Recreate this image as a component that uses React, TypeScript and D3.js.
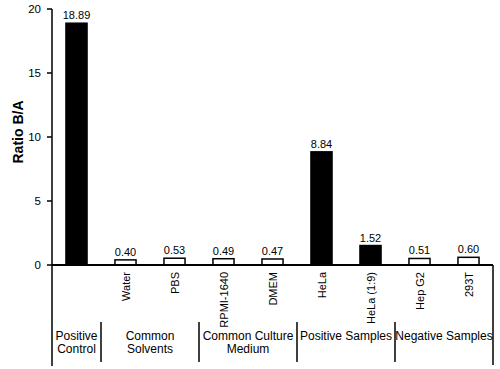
import React from "react";
import * as d3 from "d3";

const categories = ["Positive Control", "Water", "PBS", "RPMI-1640", "DMEM", "HeLa", "HeLa (1:9)", "Hep G2", "293T"];
const values = [18.89, 0.40, 0.53, 0.49, 0.47, 8.84, 1.52, 0.51, 0.60];
const filled = [true, false, false, false, false, true, true, false, false];
const showCatLabel = [false, true, true, true, true, true, true, true, true];
const groupLabels = [["Positive", "Control"], ["Common", "Solvents"], ["Common Culture", "Medium"], ["Positive Samples"], ["Negative Samples"]];
const groupSizes = [1, 2, 2, 2, 2];
const yTicks = [0, 5, 10, 15, 20];

export default function App() {
  const W = 500, H = 369;
  const x0 = 52, x1 = 493, yTop = 9, yBase = 265;
  const x = d3.scaleBand<string>().domain(categories).range([x0, x1]).paddingInner(0.57).paddingOuter(0.285);
  const y = d3.scaleLinear().domain([0, 20]).range([yBase, yTop]);
  const step = x.step();
  const font = "Liberation Sans, Arial, sans-serif";

  // group boundaries
  const bounds: number[] = [];
  let acc = 0;
  groupSizes.forEach((s) => { bounds.push(acc); acc += s; });
  const edge = (i: number) => x0 + i * ((x1 - x0) / categories.length);

  return (
    <svg width={W} height={H} style={{ position: "absolute", left: 0, top: 0, background: "#fff" }} fontFamily={font}>
      <rect width={W} height={H} fill="#fff" />
      {/* bars */}
      {categories.map((c, i) => (
        <rect key={c} x={x(c)} y={y(values[i])} width={x.bandwidth()} height={yBase - y(values[i])}
          fill={filled[i] ? "#000" : "#fff"} stroke="#000" strokeWidth={1.5} />
      ))}
      {/* value labels */}
      {categories.map((c, i) => (
        <text key={c + "v"} x={(x(c) as number) + x.bandwidth() / 2} y={y(values[i]) - 4}
          textAnchor="middle" fontSize={11} fill="#000">{values[i].toFixed(2)}</text>
      ))}
      {/* y axis */}
      <line x1={x0} x2={x0} y1={yTop} y2={366} stroke="#000" strokeWidth={1.5} />
      {yTicks.map((t) => (
        <g key={t}>
          <line x1={x0 - 5} x2={x0} y1={y(t)} y2={y(t)} stroke="#000" strokeWidth={1.5} />
          <text x={x0 - 11} y={y(t)} dy="0.35em" textAnchor="end" fontSize={11.5} fill="#000">{t}</text>
        </g>
      ))}
      {/* x axis baseline */}
      <line x1={x0} x2={x1} y1={yBase} y2={yBase} stroke="#000" strokeWidth={2} />
      <line x1={x1} x2={x1} y1={yBase} y2={365} stroke="#000" strokeWidth={1.5} />
      {/* category labels */}
      {categories.map((c, i) => showCatLabel[i] ? (
        <text key={c + "c"} transform={`translate(${(x(c) as number) + x.bandwidth() / 2 + 4},272) rotate(-90)`}
          textAnchor="end" fontSize={11} fill="#000">{c}</text>
      ) : null)}
      {/* group separators */}
      {bounds.slice(1).map((b) => (
        <line key={b} x1={edge(b)} x2={edge(b)} y1={322} y2={362} stroke="#000" strokeWidth={1.5} />
      ))}
      {/* group labels */}
      {groupLabels.map((g, gi) => {
        const cx = (edge(bounds[gi]) + edge(bounds[gi] + groupSizes[gi])) / 2;
        return (
          <text key={gi} x={cx} y={340} textAnchor="middle" fontSize={12} fill="#000">
            {g.map((line, li) => (
              <tspan key={li} x={cx} dy={li === 0 ? 0 : 13}>{line}</tspan>
            ))}
          </text>
        );
      })}
      {/* y label */}
      <text transform={`translate(23,132) rotate(-90)`} textAnchor="middle" fontSize={14} fontWeight="bold" fill="#000">Ratio B/A</text>
    </svg>
  );
}
